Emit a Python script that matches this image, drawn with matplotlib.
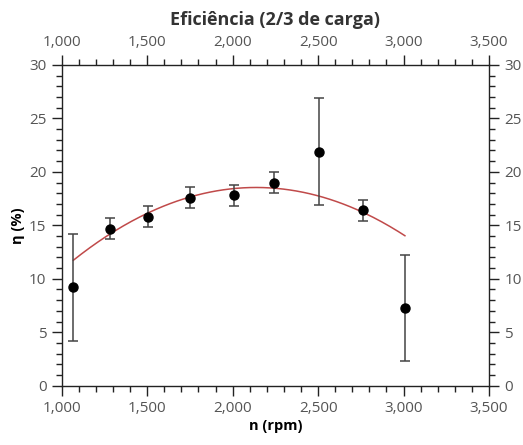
import numpy as np
import matplotlib
matplotlib.use('Agg')
import matplotlib.pyplot as plt
from matplotlib.ticker import MultipleLocator, StrMethodFormatter

plt.rcParams['font.family'] = ['Open Sans', 'DejaVu Sans']

# data
rpm = [1068, 1283, 1503, 1749, 2010, 2244, 2507, 2765, 3008]
eff = [9.2, 14.7, 15.8, 17.6, 17.8, 19.0, 21.9, 16.4, 7.3]
err = [5.0, 1.0, 1.0, 1.0, 1.0, 1.0, 5.0, 1.0, 4.95]

# weighted quadratic trend (as in the original fit)
coef = np.polyfit(rpm, eff, 2, w=1 / np.array(err))
xfit = np.linspace(rpm[0], rpm[-1], 200)
yfit = np.polyval(coef, xfit)

fig = plt.figure(figsize=(5.23, 4.45), dpi=100)
ax = fig.add_axes([0.118, 0.1333, 0.817, 0.7207])

ax.plot(xfit, yfit, color='#b52a2a', lw=1.1, alpha=0.85, zorder=2)
ax.errorbar(rpm, eff, yerr=err, fmt='o', color='black', ms=6.5,
            ecolor='#444444', elinewidth=1.1, capsize=3.3, capthick=1.1, zorder=3)

ax.set_xlim(1000, 3500)
ax.set_ylim(0, 30)
ax.xaxis.set_major_locator(MultipleLocator(500))
ax.xaxis.set_minor_locator(MultipleLocator(100))
ax.yaxis.set_major_locator(MultipleLocator(5))
ax.yaxis.set_minor_locator(MultipleLocator(1))
ax.xaxis.set_major_formatter(StrMethodFormatter('{x:,.0f}'))

ax.tick_params(which='both', direction='out', top=True, right=True,
               labeltop=True, labelright=True, color='#222222',
               labelcolor='#555555', labelsize=11)
ax.tick_params(which='major', length=7, width=1, pad=4)
ax.tick_params(which='minor', length=4, width=1)
for s in ax.spines.values():
    s.set_color('#222222')
    s.set_linewidth(1)

ax.set_title('Eficiência (2/3 de carga)', fontsize=13, fontweight='bold',
             color='#333333', pad=7)
ax.set_xlabel('n (rpm)', fontsize=10.5, fontweight='bold', labelpad=2)
ax.set_ylabel('η (%)', fontsize=10.5, fontweight='bold', labelpad=3)

plt.savefig('out.png', dpi=100)
